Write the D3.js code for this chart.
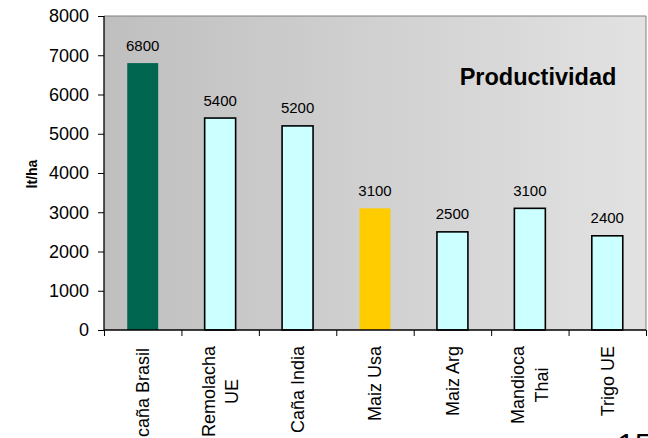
<!DOCTYPE html>
<html><head><meta charset="utf-8">
<script src="https://cdn.jsdelivr.net/npm/d3@7"></script>
<style>html,body{margin:0;padding:0;background:#fff;}svg{display:block;font-family:Arial,"Liberation Sans",sans-serif;}</style>
</head><body>
<svg id="c" width="648" height="438"></svg>
<script>
const categories = [["caña Brasil"],["Remolacha","UE"],["Caña India"],["Maiz Usa"],["Maiz Arg"],["Mandioca","Thai"],["Trigo UE"]];
const values = [6800,5400,5200,3100,2500,3100,2400];
const barColors = ["#00664f","#ccffff","#ccffff","#ffcc00","#ccffff","#ccffff","#ccffff"];
const barStroke = [false,true,true,false,true,true,true];
const yTicks = [0,1000,2000,3000,4000,5000,6000,7000,8000];
const title = "Productividad";
const yLabel = "lt/ha";
const pageNum = "15";

const svg = d3.select("#c");
const L = 104, R = 646, T = 16, B = 330;
const x = d3.scaleBand().domain(d3.range(categories.length)).range([L,R]).paddingInner(0.6).paddingOuter(0.3);
const xb = d3.scaleLinear().domain([0,categories.length]).range([L,R]);
const y = d3.scaleLinear().domain([0,8000]).range([B,T]);

const defs = svg.append("defs");
const g = defs.append("linearGradient").attr("id","bg").attr("x1","0").attr("x2","1").attr("y1","0").attr("y2","0");
g.append("stop").attr("offset","0").attr("stop-color","#bfbfbf");
g.append("stop").attr("offset","1").attr("stop-color","#e2e2e2");

svg.append("rect").attr("x",L).attr("y",T).attr("width",R-L).attr("height",B-T).attr("fill","url(#bg)");
svg.append("path").attr("d",`M${L},${T}H${R}V${B}`).attr("fill","none").attr("stroke","#808080").attr("stroke-width",1);

// bars
svg.selectAll("rect.bar").data(values).join("rect").attr("class","bar")
  .attr("x",(d,i)=>x(i)).attr("width",x.bandwidth())
  .attr("y",d=>y(d)).attr("height",d=>B-y(d))
  .attr("fill",(d,i)=>barColors[i])
  .attr("stroke",(d,i)=>barStroke[i]?"#000":"none").attr("stroke-width",1.6);

// value labels
svg.selectAll("text.val").data(values).join("text").attr("class","val")
  .attr("x",(d,i)=>x(i)+x.bandwidth()/2).attr("y",d=>y(d)-12.5)
  .attr("text-anchor","middle").attr("font-size",15).attr("fill","#000").text(d=>d);

// y axis
const ya = svg.append("g").attr("transform",`translate(${L},0)`)
  .call(d3.axisLeft(y).tickValues(yTicks).tickSize(6).tickPadding(9).tickFormat(d3.format("d")));
ya.select(".domain").attr("stroke","#000").attr("stroke-width",1.3).attr("d",`M0,${T}V${B}`);
ya.selectAll(".tick line").attr("stroke","#000");
ya.selectAll(".tick text").attr("font-size",18).attr("font-family","Arial, 'Liberation Sans', sans-serif").attr("fill","#000");

// x axis
const xa = svg.append("g").attr("transform",`translate(0,${B})`)
  .call(d3.axisBottom(xb).tickValues(d3.range(categories.length+1)).tickSize(6).tickFormat(""));
xa.select(".domain").attr("stroke","#000").attr("stroke-width",1.3).attr("d",`M${L},0H${R}`);
xa.selectAll(".tick line").attr("stroke","#000");

// category labels
const lh = 23.5, top0 = 346, fs = 18;
categories.forEach((lines,i)=>{
  const cx = x(i)+x.bandwidth()/2;
  const t = svg.append("text").attr("font-size",fs).attr("text-anchor","middle").attr("fill","#000");
  lines.forEach((ln,j)=>{
    t.append("tspan").attr("x",0).attr("y",(j-(lines.length-1)/2)*lh).attr("dy","0.35em").text(ln);
  });
  let maxW = 0;
  t.selectAll("tspan").each(function(){ maxW = Math.max(maxW,this.getComputedTextLength()); });
  const cy = (i===0?348:top0) + maxW/2;
  t.attr("transform",`translate(${cx},${cy}) rotate(-90)`);
});

// title
svg.append("text").attr("x",538).attr("y",85).attr("text-anchor","middle").attr("font-size",23.5).attr("font-weight","bold").attr("fill","#000").text(title);

// y label
svg.append("text").attr("transform","translate(37,174) rotate(-90)").attr("text-anchor","middle").attr("font-size",14).attr("font-weight","bold").attr("fill","#000").text(yLabel);

// page number
svg.append("text").attr("x",617).attr("y",456).attr("font-size",32).attr("fill","#000").text(pageNum);
</script>
</body></html>
